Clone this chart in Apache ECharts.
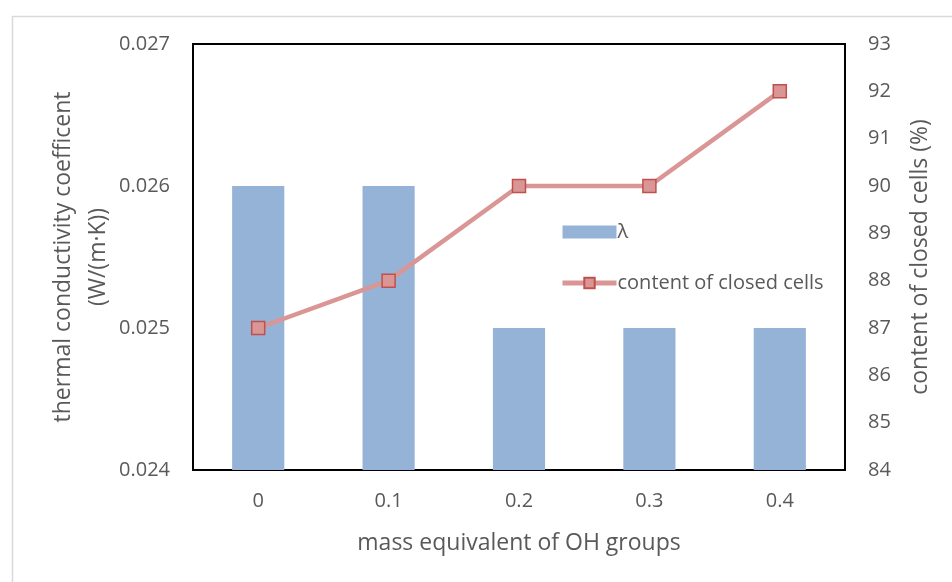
<!DOCTYPE html>
<html><head><meta charset="utf-8">
<script src="https://cdn.jsdelivr.net/npm/echarts@6/dist/echarts.min.js"></script>
<style>html,body{margin:0;padding:0;background:#fff}#c{width:952px;height:582px}</style>
</head><body><div id="c"></div>
<script>
const categories = ['0', '0.1', '0.2', '0.3', '0.4'];
const lambdaValues = [0.026, 0.026, 0.025, 0.025, 0.025];
const closedCells = [87, 88, 90, 90, 92];
const leftTicks = { min: 0.024, max: 0.027, interval: 0.001 };
const rightTicks = { min: 84, max: 93, interval: 1 };

const FONT = '"Open Sans", "Liberation Sans", sans-serif';
const TXT = '#595959';
const chart = echarts.init(document.getElementById('c'));
chart.setOption({
  animation: false,
  textStyle: { fontFamily: FONT },
  graphic: [{
    type: 'rect', left: 10, top: 14, silent: true,
    shape: { width: 960, height: 600 },
    style: { fill: 'none', stroke: '#d9d9d9', lineWidth: 1.5 }
  }],
  grid: { left: 193, right: 107, top: 44, bottom: 112, show: true, borderColor: '#000', borderWidth: 2, backgroundColor: 'transparent' },
  legend: {
    orient: 'vertical', left: 560, top: 222, itemGap: 31, padding: 0,
    itemWidth: 54, itemHeight: 13,
    textStyle: { fontFamily: FONT, fontSize: 20, color: TXT, padding: [0, 0, 0, -4] },
    data: [
      { name: 'λ', icon: 'rect' },
      { name: 'content of closed cells', lineStyle: { width: 5, color: '#d99694' } }
    ]
  },
  xAxis: {
    type: 'category', data: categories,
    name: 'mass equivalent of OH groups', nameLocation: 'middle', nameGap: 62,
    nameTextStyle: { fontSize: 23, color: TXT, fontFamily: FONT },
    axisLine: { lineStyle: { color: '#000', width: 2 } },
    axisTick: { show: false },
    axisLabel: { fontSize: 20, color: TXT, margin: 21, fontFamily: FONT }
  },
  yAxis: [{
    type: 'value', min: leftTicks.min, max: leftTicks.max, interval: leftTicks.interval,
    name: 'thermal conductivity coefficent\n(W/(m·K))', nameLocation: 'middle', nameRotate: 90, nameGap: 77,
    nameMoveOverlap: false,
    nameTextStyle: { fontSize: 23, color: TXT, fontFamily: FONT, lineHeight: 35 },
    axisLine: { show: true, lineStyle: { color: '#000', width: 2 } },
    axisTick: { show: false }, splitLine: { show: false },
    axisLabel: { fontSize: 20, color: TXT, margin: 23, fontFamily: FONT, formatter: v => v.toFixed(3) }
  }, {
    type: 'value', min: rightTicks.min, max: rightTicks.max, interval: rightTicks.interval,
    name: 'content of closed cells (%)', nameLocation: 'middle', nameRotate: 90, nameGap: 64,
    nameTextStyle: { fontSize: 23, color: TXT, fontFamily: FONT },
    axisLine: { show: true, lineStyle: { color: '#000', width: 2 } },
    axisTick: { show: false }, splitLine: { show: false },
    axisLabel: { fontSize: 20, color: TXT, margin: 23, fontFamily: FONT }
  }],
  series: [{
    name: 'λ', type: 'bar', yAxisIndex: 0, data: lambdaValues, barWidth: '40%',
    itemStyle: { color: '#95b3d7' }
  }, {
    name: 'content of closed cells', type: 'line', yAxisIndex: 1, data: closedCells,
    symbol: 'rect', symbolSize: 13,
    lineStyle: { color: '#d99694', width: 4.5 },
    itemStyle: { color: '#d99694', borderColor: '#c0504d', borderWidth: 1.5 }
  }]
});
</script></body></html>
